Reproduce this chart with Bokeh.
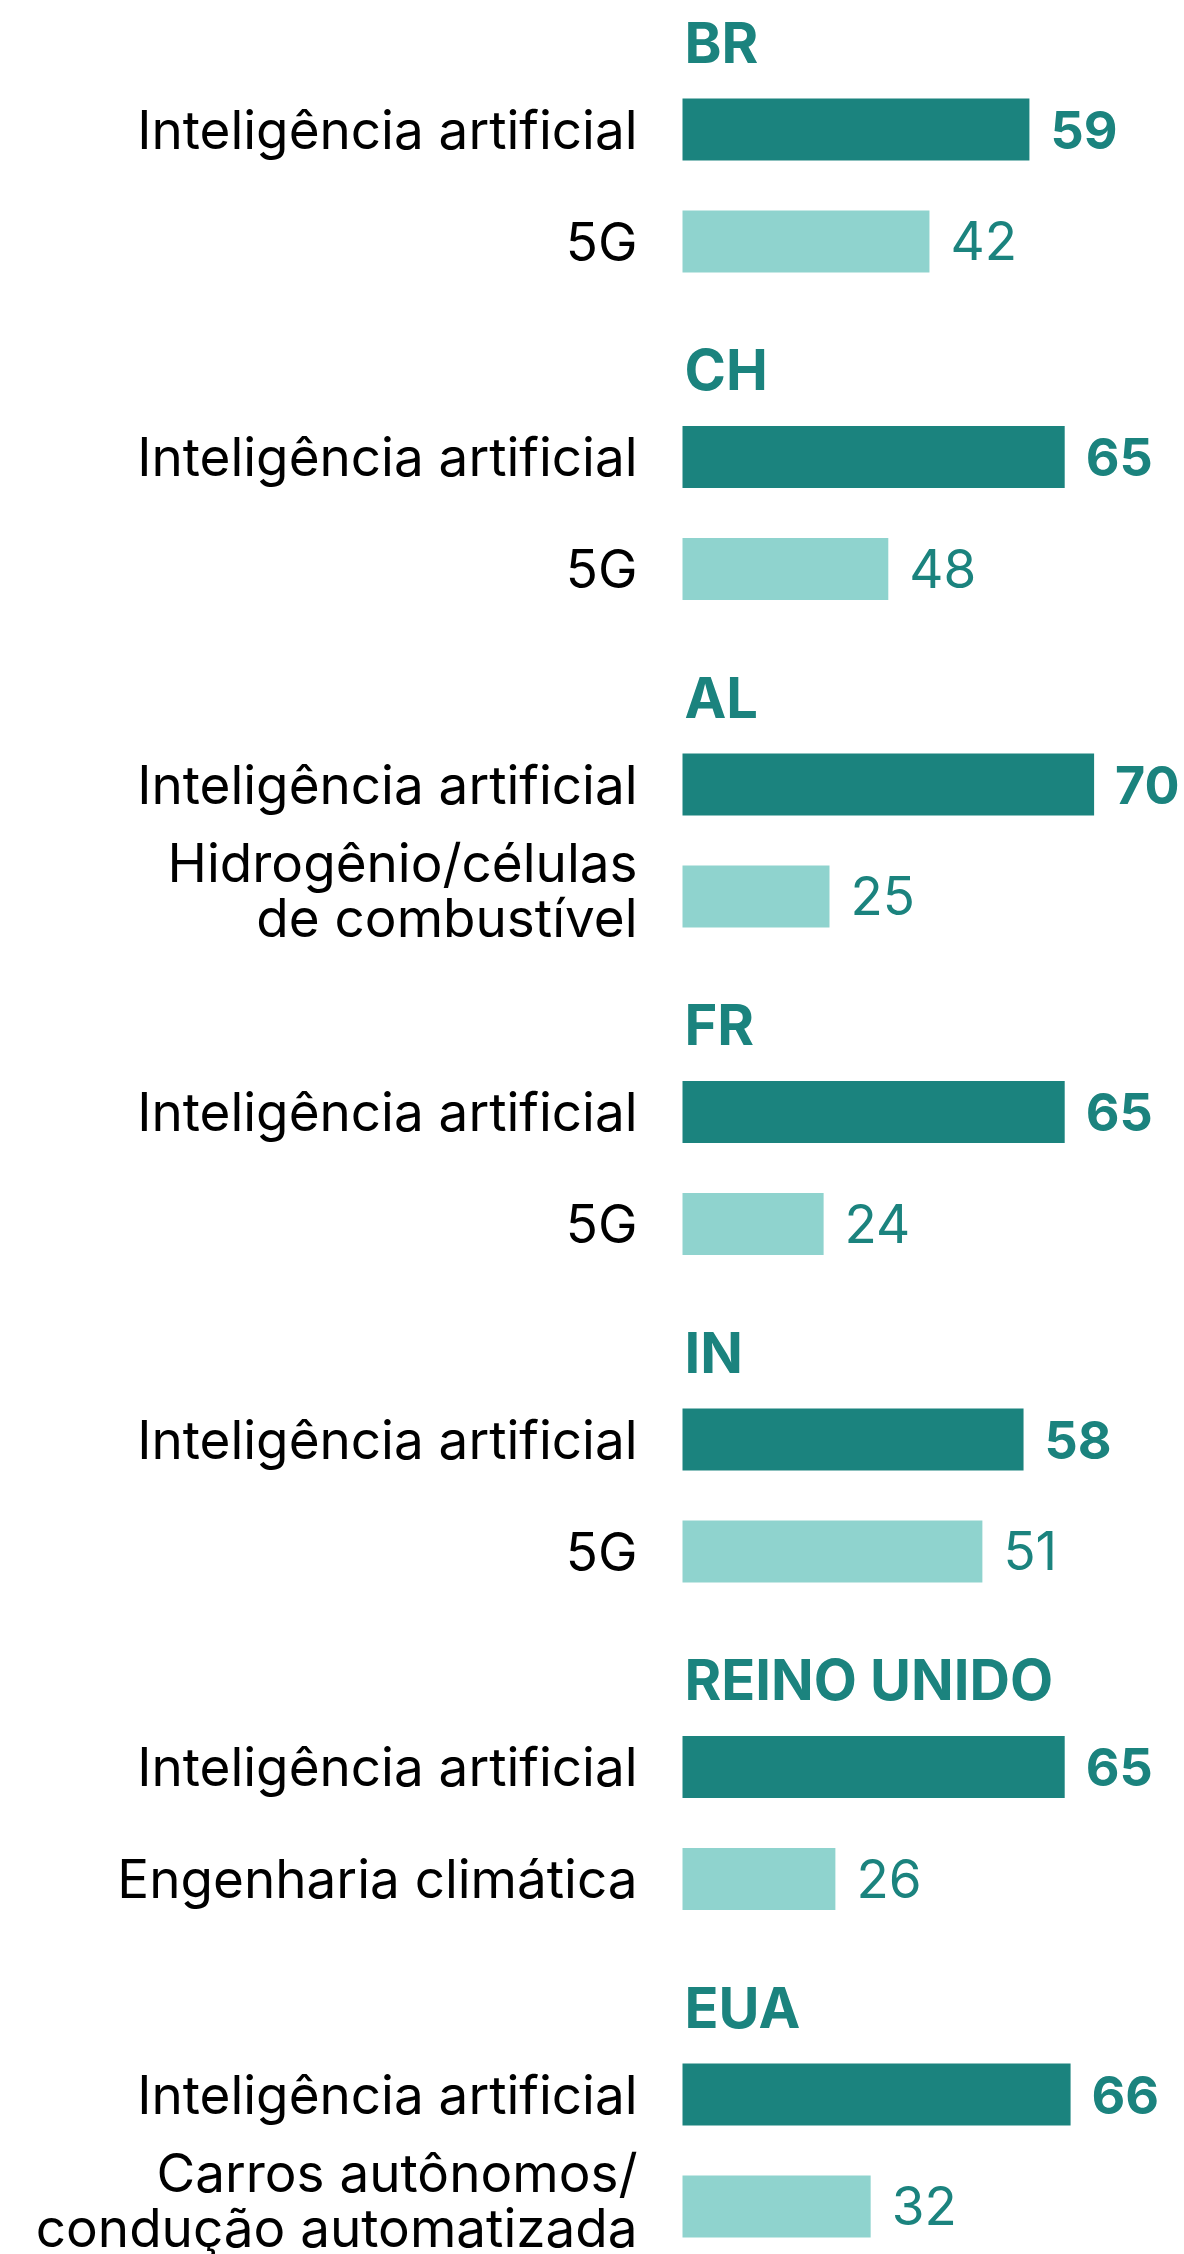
from bokeh.plotting import figure
from bokeh.models import Range1d
from bokeh.core.properties import value
from bokeh.embed import file_html
from bokeh.resources import INLINE

# ---- data ----
countries = ["BR", "CH", "AL", "FR", "IN", "REINO UNIDO", "EUA"]
ai_label = "Inteligência artificial"
ai_values = [59, 65, 70, 65, 58, 65, 66]
second_labels = ["5G", "5G", "Hidrogênio/células\nde combustível", "5G", "5G",
                 "Engenharia climática", "Carros autônomos/\ncondução automatizada"]
second_values = [42, 48, 25, 24, 51, 26, 32]          # printed values
second_bar_lengths = [42, 35, 25, 24, 51, 26, 32]     # bar lengths as drawn in the source (CH bar is short)

# ---- style / layout ----
DARK = "#1b837e"
LIGHT = "#8fd3ce"
FONT = "Inter"
W, H = 1184, 2254
PX_PER_UNIT = 5.88
BAR_LEFT_PX = 682          # x of value 0
GROUP_STEP = 327.5
TITLE_BASE = 62            # y of first title baseline
AI_CENTER = 129
SEC_CENTER = 241
BAR_H = 62
BASE_FIX = -20             # bokeh alphabetic baseline correction

x0 = -BAR_LEFT_PX / PX_PER_UNIT
x1 = (W - BAR_LEFT_PX) / PX_PER_UNIT

p = figure(width=W, height=H, output_backend="svg", toolbar_location=None,
           x_range=Range1d(x0, x1), y_range=Range1d(H, 0),
           x_axis_location=None, y_axis_location=None, min_border=0)
p.grid.visible = False
p.outline_line_color = None
p.background_fill_color = "white"
p.border_fill_color = "white"

n = len(countries)
title_y = [TITLE_BASE + BASE_FIX + i * GROUP_STEP for i in range(n)]
ai_y = [AI_CENTER + i * GROUP_STEP for i in range(n)]
sec_y = [SEC_CENTER + i * GROUP_STEP for i in range(n)]

p.hbar(y=ai_y, left=0, right=ai_values, height=BAR_H, color=DARK, line_color=None)
p.hbar(y=sec_y, left=0, right=second_bar_lengths, height=BAR_H, color=LIGHT, line_color=None)

# titles
p.text(x=[0] * n, y=title_y, text=countries, x_offset=2,
       text_font=value(FONT), text_font_size="56px", text_font_style="bold",
       text_color=DARK, text_align="left", text_baseline="alphabetic")

# category labels
lab_x, lab_y, lab_t = [], [], []
for i in range(n):
    lab_x.append(0); lab_y.append(ai_y[i] + 20 + BASE_FIX); lab_t.append(ai_label)
    lines = second_labels[i].split("\n")
    if len(lines) == 1:
        lab_x.append(0); lab_y.append(sec_y[i] + 20 + BASE_FIX); lab_t.append(lines[0])
    else:
        lab_x.append(0); lab_y.append(sec_y[i] - 14 + BASE_FIX); lab_t.append(lines[0])
        lab_x.append(0); lab_y.append(sec_y[i] + 41 + BASE_FIX); lab_t.append(lines[1])
p.text(x=lab_x, y=lab_y, text=lab_t, x_offset=-45,
       text_font=value(FONT), text_font_size="53px", text_color="#000000",
       text_align="right", text_baseline="alphabetic")

# value labels
p.text(x=ai_values, y=[y + 20 + BASE_FIX for y in ai_y], text=[str(v) for v in ai_values],
       x_offset=21, text_font=value(FONT), text_font_size="52px", text_font_style="bold",
       text_color=DARK, text_align="left", text_baseline="alphabetic")
p.text(x=second_bar_lengths, y=[y + 19 + BASE_FIX for y in sec_y], text=[str(v) for v in second_values],
       x_offset=21, text_font=value(FONT), text_font_size="53px",
       text_color=DARK, text_align="left", text_baseline="alphabetic")

open("out.html", "w").write(file_html(p, INLINE))
